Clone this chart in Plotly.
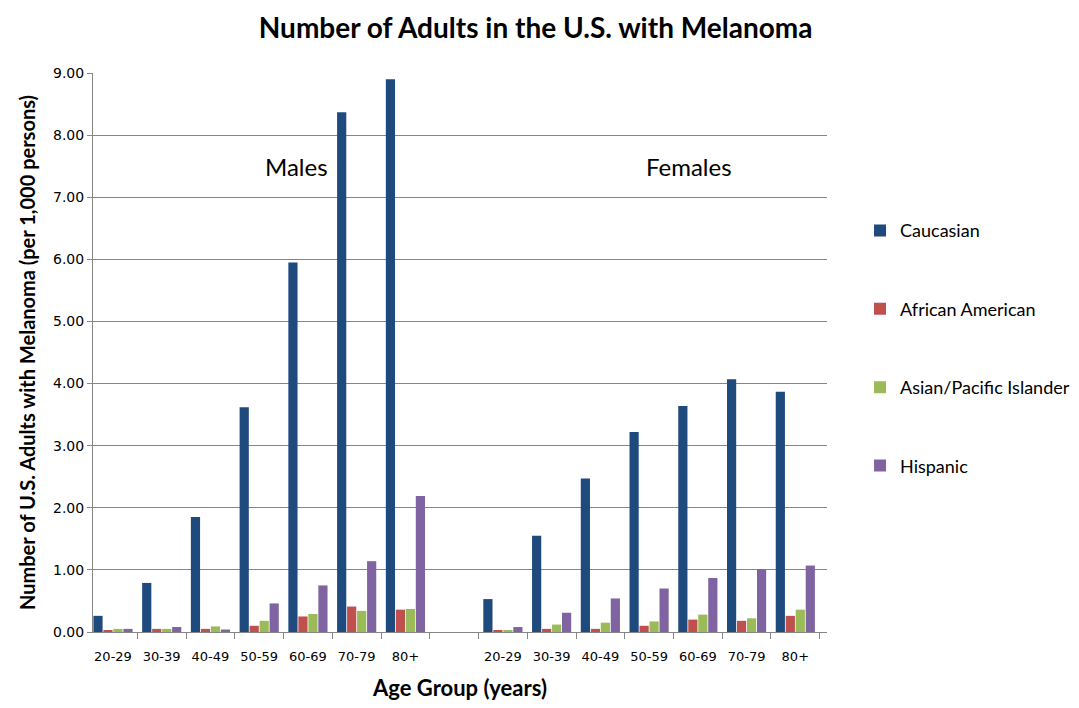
import plotly.graph_objects as go

age_groups = ["20-29", "30-39", "40-49", "50-59", "60-69", "70-79", "80+"]
sexes = ["Males", "Females"]
series_names = ["Caucasian", "African American", "Asian/Pacific Islander", "Hispanic"]
colors = ["#1F4A7E", "#C0504D", "#9BBB59", "#8064A2"]

male_caucasian = [0.26, 0.79, 1.85, 3.62, 5.95, 8.37, 8.90]
male_african_american = [0.02, 0.05, 0.05, 0.10, 0.25, 0.41, 0.36]
male_asian = [0.05, 0.05, 0.09, 0.18, 0.29, 0.34, 0.37]
male_hispanic = [0.05, 0.08, 0.04, 0.46, 0.75, 1.14, 2.19]

female_caucasian = [0.53, 1.55, 2.47, 3.22, 3.64, 4.07, 3.87]
female_african_american = [0.03, 0.05, 0.05, 0.10, 0.20, 0.18, 0.26]
female_asian = [0.03, 0.12, 0.15, 0.17, 0.28, 0.22, 0.36]
female_hispanic = [0.08, 0.31, 0.54, 0.70, 0.87, 1.01, 1.07]

male_series = [male_caucasian, male_african_american, male_asian, male_hispanic]
female_series = [female_caucasian, female_african_american, female_asian, female_hispanic]

# category slots: 7 male groups, one empty slot, 7 female groups
x_male = list(range(len(age_groups)))
x_female = [len(age_groups) + 1 + i for i in range(len(age_groups))]
x_all = x_male + x_female
tick_text = age_groups + age_groups

fig = go.Figure()
for name, color, m, f in zip(series_names, colors, male_series, female_series):
    fig.add_trace(go.Bar(
        x=x_all, y=m + f, name=name, legendgroup=name,
        marker=dict(color=color, line=dict(width=0)),
    ))

font_main = "Lato, Open Sans, sans-serif"
fig.update_layout(
    width=1079, height=708,
    paper_bgcolor="white", plot_bgcolor="white",
    margin=dict(l=85, r=252, t=65, b=84),
    barmode="group", bargap=0.18, bargroupgap=0.08,
    title=dict(text="<b>Number of Adults in the U.S. with Melanoma</b>",
               x=0.489, xanchor="center", y=0.972, yanchor="middle",
               font=dict(family=font_main, size=28, color="black")),
    legend=dict(x=1.045, y=0.751, xanchor="left", yanchor="top",
                font=dict(family=font_main, size=18, color="black"),
                tracegroupgap=52, itemwidth=30, bgcolor="rgba(0,0,0,0)"),
    xaxis=dict(
        range=[-0.41, 14.65],
        tickmode="array", tickvals=x_all, ticktext=tick_text,
        showgrid=False, showline=True, linecolor="#868686", linewidth=1,
        ticks="", ticklabelstandoff=12,
        tickfont=dict(family="DejaVu Sans", size=13, color="black"),
        minor=dict(ticks="outside", tick0=-0.5, dtick=1, ticklen=6,
                   tickcolor="#868686", showgrid=False),
        title=dict(text="<b>Age Group (years)</b>", standoff=18,
                   font=dict(family=font_main, size=22, color="black")),
        zeroline=False,
    ),
    yaxis=dict(
        range=[0, 9], dtick=1, tickformat=".2f",
        showgrid=True, gridcolor="#868686", gridwidth=1,
        showline=True, linecolor="#868686", linewidth=1,
        ticks="outside", ticklen=5, tickcolor="#868686",
        tickfont=dict(family="DejaVu Sans", size=14, color="black"),
        title=dict(text="<b>Number of U.S. Adults with Melanoma (per 1,000 persons)</b>",
                   standoff=12, font=dict(family=font_main, size=20, color="black")),
        zeroline=False,
    ),
    annotations=[
        dict(text="Males", x=3.76, y=7.49, xref="x", yref="y", showarrow=False,
             font=dict(family=font_main, size=24, color="black")),
        dict(text="Females", x=11.82, y=7.49, xref="x", yref="y", showarrow=False,
             font=dict(family=font_main, size=24, color="black")),
    ],
)

fig.write_html("out.html")
